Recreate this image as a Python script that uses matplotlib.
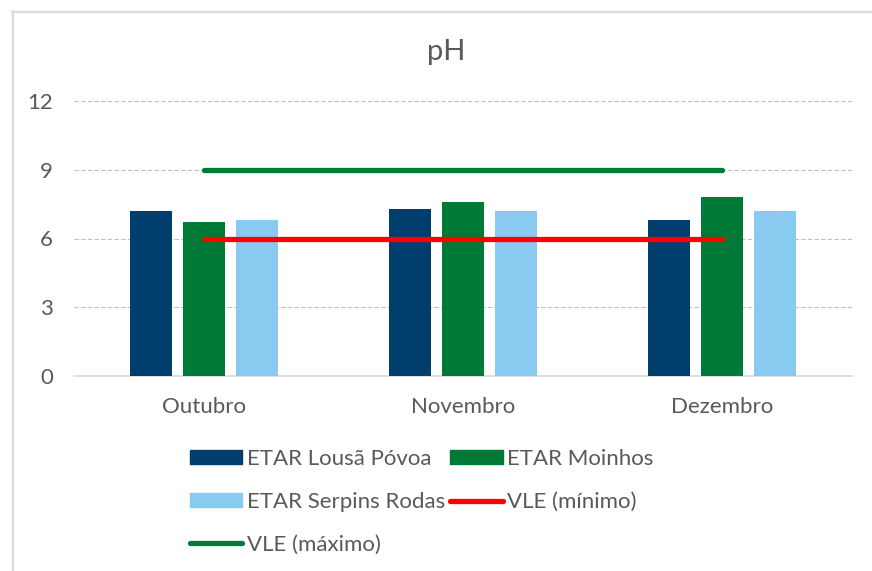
import matplotlib
matplotlib.use("Agg")
import matplotlib.pyplot as plt
from matplotlib.lines import Line2D
from matplotlib.patches import Patch
import numpy as np

plt.rcParams['font.family'] = ['Lato', 'DejaVu Sans']

title = "pH"
categories = ["Outubro", "Novembro", "Dezembro"]
series_names = ["ETAR Lousã Póvoa", "ETAR Moinhos", "ETAR Serpins Rodas"]
lousa = [7.2, 7.3, 6.8]
moinhos = [6.7, 7.6, 7.8]
serpins = [6.8, 7.2, 7.2]
vle_min = [6, 6, 6]
vle_max = [9, 9, 9]
vle_names = ["VLE (mínimo)", "VLE (máximo)"]
yticks = [0, 3, 6, 9, 12]

bar_colors = ["#003E6D", "#007A37", "#89CAF1"]
red = "#FF0000"
green = "#007A37"
txt = "#595959"
fs = 16

fig = plt.figure(figsize=(8.72, 5.71), dpi=100)
ax = fig.add_axes([74/872, 1-376/571, 778/872, 275/571])

x = np.arange(len(categories))
w = 0.162
off = 0.204
for i, (vals, c) in enumerate(zip([lousa, moinhos, serpins], bar_colors)):
    ax.bar(x + (i-1)*off, vals, width=w, color=c, zorder=2)

ax.plot(x, vle_min, color=red, lw=3.8, solid_capstyle='round', zorder=3)
ax.plot(x, vle_max, color=green, lw=3.8, solid_capstyle='round', zorder=3)

ax.set_xlim(-0.5, len(categories)-0.5)
ax.set_ylim(0, 12)
ax.set_yticks(yticks)
ax.set_yticklabels([str(t) for t in yticks])
ax.set_xticks(x)
ax.set_xticklabels(categories)
ax.tick_params(axis='both', length=0, labelsize=fs, colors=txt)
ax.tick_params(axis='y', pad=15)
ax.tick_params(axis='x', pad=15)
ax.yaxis.grid(True, color="#BFBFBF", lw=0.8, linestyle=(0, (4, 2)), zorder=0)
ax.set_axisbelow(True)
for s in ['top', 'right', 'left']:
    ax.spines[s].set_visible(False)
ax.spines['bottom'].set_color("#D9D9D9")
ax.spines['bottom'].set_linewidth(1.2)
ax.spines['bottom'].set_zorder(1)

fig.text(446/872, 1-52/571, title, ha='center', va='center', fontsize=21, color=txt)

handles = [Patch(color=bar_colors[0]), Patch(color=bar_colors[2]),
           Line2D([], [], color=green, lw=3.8, solid_capstyle='round'),
           Patch(color=bar_colors[1]),
           Line2D([], [], color=red, lw=3.8, solid_capstyle='round')]
labels = [series_names[0], series_names[2], vle_names[1], series_names[1], vle_names[0]]
leg = fig.legend(handles, labels, ncol=2, loc='upper left',
                 bbox_to_anchor=(190/872, 1-449/571), frameon=False,
                 fontsize=fs, handlelength=2.35, handleheight=0.55, handletextpad=0.2,
                 columnspacing=0.25, labelspacing=1.03, borderpad=0, borderaxespad=0)
for t in leg.get_texts():
    t.set_color(txt)

# chart frame (left and top edges)
fig.add_artist(Line2D([12.5/872, 12.5/872], [1-11/571, 0], transform=fig.transFigure,
                      color="#D9D9D9", lw=1.6))
fig.add_artist(Line2D([12/872, 1], [1-11.5/571, 1-11.5/571], transform=fig.transFigure,
                      color="#D9D9D9", lw=1.6))

fig.savefig("out.png", dpi=100)
